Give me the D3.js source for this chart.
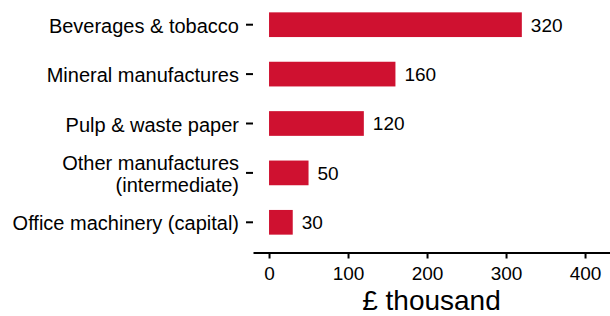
<!DOCTYPE html>
<html>
<head>
<meta charset="utf-8">
<script src="https://cdn.jsdelivr.net/npm/d3@7"></script>
<style>
  body { margin: 0; background: #fff; }
  svg text { font-family: "Liberation Sans", Arial, sans-serif; fill: #000; }
</style>
</head>
<body>
<div id="chart"></div>
<script>
// chart data
var categories = [
  "Beverages & tobacco",
  "Mineral manufactures",
  "Pulp & waste paper",
  "Other manufactures\n(intermediate)",
  "Office machinery (capital)"
];
var values = [320, 160, 120, 50, 30];
var xTicks = [0, 100, 200, 300, 400];
var xTitle = "£ thousand";

var svgWidth = 610;
var svgHeight = 316;
var barColor = "#cf1130";

var svg = d3.select("#chart")
  .append("svg")
  .attr("width", svgWidth)
  .attr("height", svgHeight);

// scales
var x = d3.scaleLinear()
  .domain([-20.3, 431.6])
  .range([253, 610]);

var y = d3.scaleBand()
  .domain(categories)
  .range([0, 247])
  .paddingInner(0.5)
  .paddingOuter(0.25);

// bars
svg.selectAll("rect.bar")
  .data(values)
  .enter()
  .append("rect")
  .attr("class", "bar")
  .attr("x", x(0))
  .attr("y", (d, i) => y(categories[i]))
  .attr("width", d => x(d) - x(0))
  .attr("height", y.bandwidth())
  .attr("fill", barColor);

// value labels
svg.selectAll("text.val")
  .data(values)
  .enter()
  .append("text")
  .attr("class", "val")
  .attr("x", d => x(d) + 9)
  .attr("y", (d, i) => y(categories[i]) + y.bandwidth() / 2)
  .attr("dy", "0.36em")
  .attr("font-size", 19)
  .text(d => d);

// x axis
var xAxis = svg.append("g")
  .attr("transform", "translate(0,252.5)")
  .call(d3.axisBottom(x).tickValues(xTicks).tickSize(6).tickPadding(8).tickSizeOuter(0));
xAxis.select(".domain").attr("stroke", "#000").attr("stroke-width", 2);
xAxis.selectAll(".tick line").attr("stroke", "#000").attr("stroke-width", 2);
xAxis.selectAll(".tick text")
  .attr("font-size", 19)
  .style("font-family", "'Liberation Sans', Arial, sans-serif");

// y axis (ticks only)
var yAxis = svg.append("g")
  .attr("transform", "translate(253,0)")
  .call(d3.axisLeft(y).tickSize(7).tickPadding(7));
yAxis.select(".domain").remove();
yAxis.selectAll(".tick line").attr("stroke", "#000").attr("stroke-width", 2);
yAxis.selectAll(".tick text")
  .attr("font-size", 20)
  .style("font-family", "'Liberation Sans', Arial, sans-serif")
  .each(function(d) {
    var lines = d.split("\n");
    var t = d3.select(this);
    if (lines.length == 1) {
      t.attr("dy", "0.4em");
      return;
    }
    t.text(null).attr("dy", null);
    lines.forEach(function(line, i) {
      t.append("tspan")
        .attr("x", -14)
        .attr("dy", i == 0 ? "-0.14em" : "1.085em")
        .text(line);
    });
  });

// x axis title
svg.append("text")
  .attr("x", (x.range()[0] + x.range()[1]) / 2)
  .attr("y", 310)
  .attr("text-anchor", "middle")
  .attr("font-size", 28)
  .text(xTitle);
</script>
</body>
</html>
